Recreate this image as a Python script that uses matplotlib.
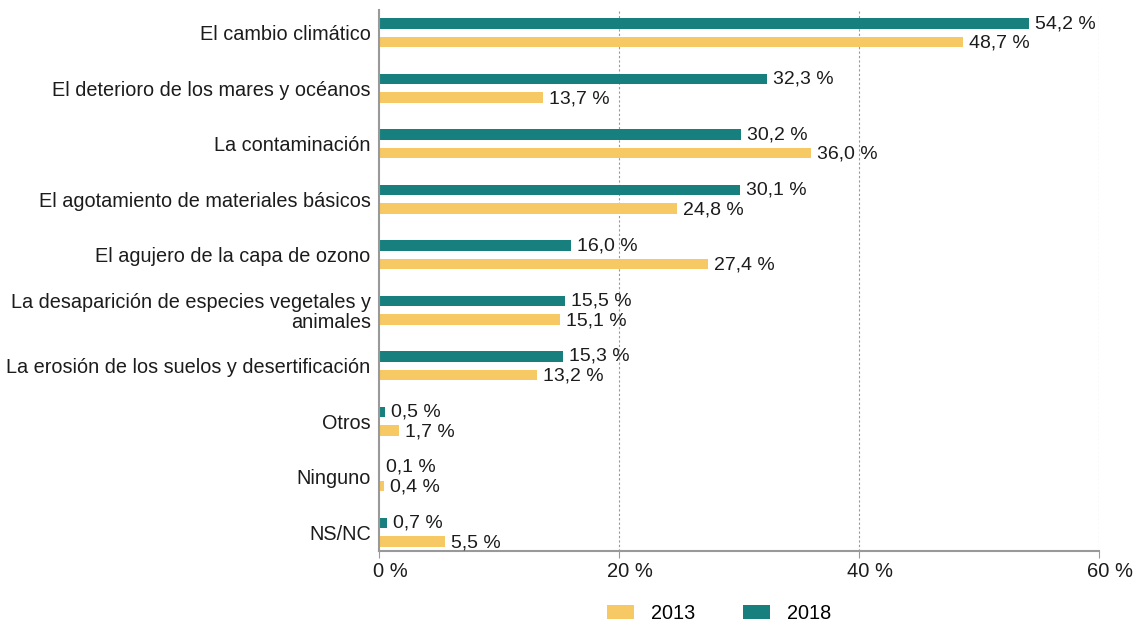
import matplotlib.pyplot as plt
import matplotlib.transforms as mtransforms
import numpy as np

plt.rcParams['font.family'] = ['Liberation Sans', 'DejaVu Sans']

categories = [
    'El cambio climático',
    'El deterioro de los mares y océanos',
    'La contaminación',
    'El agotamiento de materiales básicos',
    'El agujero de la capa de ozono',
    'La desaparición de especies vegetales y\nanimales',
    'La erosión de los suelos y desertificación',
    'Otros',
    'Ninguno',
    'NS/NC',
]
values_2018 = [54.2, 32.3, 30.2, 30.1, 16.0, 15.5, 15.3, 0.5, 0.1, 0.7]
values_2013 = [48.7, 13.7, 36.0, 24.8, 27.4, 15.1, 13.2, 1.7, 0.4, 5.5]
xticks = [0, 20, 40, 60]

teal = '#17807e'
yellow = '#f6c965'
txt = '#1c1c1c'

fig = plt.figure(figsize=(11.36, 6.21), dpi=100)
ax = fig.add_axes([0.3336, 0.1127, 0.6338, 0.8713])

y = np.arange(len(categories))
h = 0.19
off = 0.167
ax.barh(y - off, values_2018, height=h, color=teal, label='2018')
ax.barh(y + off, values_2013, height=h, color=yellow, label='2013')

def fmt(v):
    return f'{v:.1f} %'.replace('.', ',')

for yi, v in zip(y, values_2018):
    ax.text(v + 0.5, yi - off, fmt(v), va='center', ha='left', fontsize=14, color=txt)
for yi, v in zip(y, values_2013):
    ax.text(v + 0.5, yi + off + 0.02, fmt(v), va='center', ha='left', fontsize=14, color=txt)

ax.set_ylim(9.34, -0.415)
ax.set_xlim(0, 60)
ax.set_yticks(y)
ax.set_yticklabels(categories, fontsize=14.3, color=txt, linespacing=1.05)
ax.tick_params(axis='y', length=0, pad=6)
ax.set_xticks(xticks)
ax.set_xticklabels([f'{t} %' for t in xticks], fontsize=14.5, color=txt)
ax.tick_params(axis='x', length=5, color='#999999', pad=3)

# the percent labels sit a bit to the right of their ticks
shift = mtransforms.ScaledTranslation(11 / 100, 0, fig.dpi_scale_trans)
for lbl in ax.get_xticklabels():
    lbl.set_transform(lbl.get_transform() + shift)

for t in xticks[1:]:
    ax.axvline(t, color='#999999', linestyle=(0, (2, 2)), linewidth=0.8, zorder=0)

for s in ['top', 'right']:
    ax.spines[s].set_visible(False)
ax.spines['left'].set_color('#999999')
ax.spines['bottom'].set_color('#999999')
ax.spines['left'].set_linewidth(1.5)
ax.spines['bottom'].set_linewidth(1.5)

handles, labels = ax.get_legend_handles_labels()
fig.legend(handles[::-1], labels[::-1], loc='center', bbox_to_anchor=(0.633, 0.012),
           ncol=2, frameon=False, fontsize=14.3, handlelength=1.35, handleheight=0.65,
           handletextpad=0.85, columnspacing=2.4)

fig.savefig('out.png', dpi=100)
